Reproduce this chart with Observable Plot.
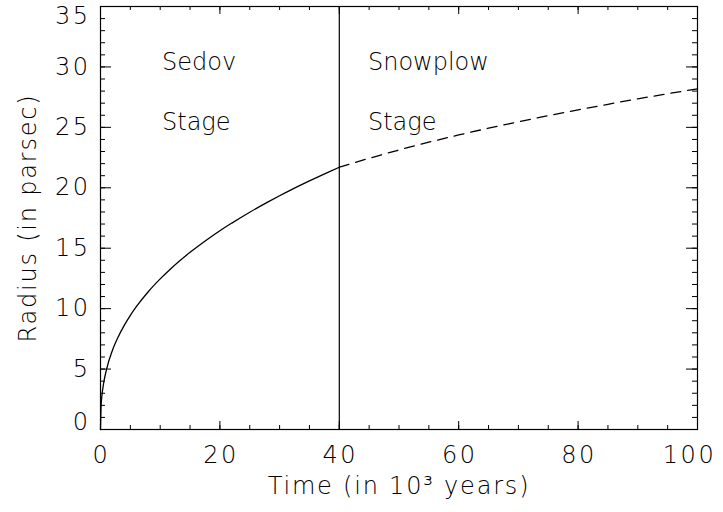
<!DOCTYPE html>
<html>
<head>
<meta charset="utf-8">
<script src="https://cdn.jsdelivr.net/npm/d3@7"></script>
<script src="https://cdn.jsdelivr.net/npm/@observablehq/plot@0.6"></script>
<style>
  html, body { margin: 0; padding: 0; background: #fff; }
  #chart svg { display: block; }
</style>
</head>
<body>
<div id="chart"></div>
<script>
// Sedov (blast-wave) stage: time in 10^3 years, radius in parsec
const sedovTime   = [0, 0.1, 0.25, 0.5, 1, 2, 3, 4, 5, 6, 8, 10, 12, 15, 18, 20, 22, 25, 28, 30, 32, 35, 38, 40];
const sedovRadius = [0, 1.97, 2.85, 3.76, 4.96, 6.55, 7.70, 8.64, 9.45, 10.16, 11.40, 12.46, 13.41, 14.66, 15.77, 16.45, 17.08, 17.98, 18.81, 19.34, 19.85, 20.57, 21.26, 21.70];

// Snowplow stage (dashed)
const snowTime   = [40, 45, 50, 55, 60, 65, 70, 75, 80, 85, 90, 95, 100];
const snowRadius = [21.70, 22.44, 23.13, 23.77, 24.37, 24.93, 25.46, 25.97, 26.45, 26.91, 27.36, 27.78, 28.19];

// Stage boundary
const transitionTime = [40];

// Stage annotations
const noteText   = ["Sedov", "Stage", "Snowplow", "Stage"];
const noteTime   = [10.3, 10.3, 44.8, 44.8];
const noteRadius = [30.4, 25.4, 30.4, 25.4];

// Axis ticks and titles
const xMajor = [0, 20, 40, 60, 80, 100];
const yMajor = [0, 5, 10, 15, 20, 25, 30, 35];
const xMinor = d3.range(0, 101, 5);
const yMinor = d3.range(0, 36, 1);
const xTitle = "Time (in 10³ years)";
const yTitle = "Radius (in parsec)";

const sedov = sedovTime.map((t, i) => ({t, r: sedovRadius[i]}));
const snow = snowTime.map((t, i) => ({t, r: snowRadius[i]}));
const notes = noteText.map((text, i) => ({text, t: noteTime[i], r: noteRadius[i]}));

const width = 723, height = 512;
const margin = {top: 6, right: 26, bottom: 83, left: 100};
const innerW = width - margin.left - margin.right;
const innerH = height - margin.top - margin.bottom;

const font = {fontFamily: "DejaVu Sans", fontSize: 24, fontWeight: 200, fill: "black"};
const id = d => d;
const xLast = xMajor[xMajor.length - 1];
const yLast = yMajor[yMajor.length - 1];

const chart = Plot.plot({
  width, height,
  marginTop: margin.top, marginRight: margin.right,
  marginBottom: margin.bottom, marginLeft: margin.left,
  x: {domain: [0, 100], axis: null},
  y: {domain: [0, 35], axis: null},
  style: {background: "white", fontFamily: "DejaVu Sans"},
  marks: [
    // inward ticks on all four sides
    Plot.tickX(xMinor, {x: id, insetTop: innerH - 4, stroke: "black"}),
    Plot.tickX(xMajor, {x: id, insetTop: innerH - 8, stroke: "black"}),
    Plot.tickX(xMinor, {x: id, insetBottom: innerH - 4, stroke: "black"}),
    Plot.tickX(xMajor, {x: id, insetBottom: innerH - 8, stroke: "black"}),
    Plot.tickY(yMinor, {y: id, insetRight: innerW - 5, stroke: "black"}),
    Plot.tickY(yMajor, {y: id, insetRight: innerW - 11, stroke: "black"}),
    Plot.tickY(yMinor, {y: id, insetLeft: innerW - 5, stroke: "black"}),
    Plot.tickY(yMajor, {y: id, insetLeft: innerW - 11, stroke: "black"}),
    Plot.frame({stroke: "black", strokeWidth: 1.2}),

    // tick labels (the outermost ones are nudged inside the canvas)
    Plot.text(xMajor.filter(v => v < xLast), {x: id, frameAnchor: "bottom", dy: 33, dx: 1, ...font}),
    Plot.text([xLast], {x: id, frameAnchor: "bottom", dy: 33, dx: -8, ...font}),
    Plot.text(yMajor.filter(v => v > 0 && v < yLast), {y: id, frameAnchor: "left", dx: -10, textAnchor: "end", ...font}),
    Plot.text([yLast], {y: id, frameAnchor: "left", dx: -10, dy: 10, textAnchor: "end", ...font}),
    Plot.text([0], {y: id, frameAnchor: "left", dx: -10, dy: -7, textAnchor: "end", ...font}),

    // axis titles
    Plot.text([xTitle], {frameAnchor: "bottom", dy: 64, textAnchor: "middle", ...font}),
    Plot.text([yTitle], {frameAnchor: "left", dx: -72, rotate: -90, textAnchor: "middle", ...font}),

    // stage boundary and curves
    Plot.ruleX(transitionTime, {x: id, stroke: "black", strokeWidth: 1.2}),
    Plot.line(sedov, {x: "t", y: "r", stroke: "black", strokeWidth: 1.3, curve: "monotone-x"}),
    Plot.line(snow, {x: "t", y: "r", stroke: "black", strokeWidth: 1.3, strokeDasharray: "10,7", curve: "monotone-x"}),

    // annotations
    Plot.text(notes, {x: "t", y: "r", text: "text", textAnchor: "start", ...font})
  ]
});

// wider spacing for the numeric tick labels and the axis titles
d3.select(chart).selectAll("text").each(function () {
  const s = this.textContent;
  if (/^\d+$/.test(s)) d3.select(this).style("letter-spacing", "2.5px");
  else if (s === xTitle || s === yTitle) d3.select(this).style("letter-spacing", "1.8px");
});

document.getElementById("chart").appendChild(chart);
</script>
</body>
</html>
